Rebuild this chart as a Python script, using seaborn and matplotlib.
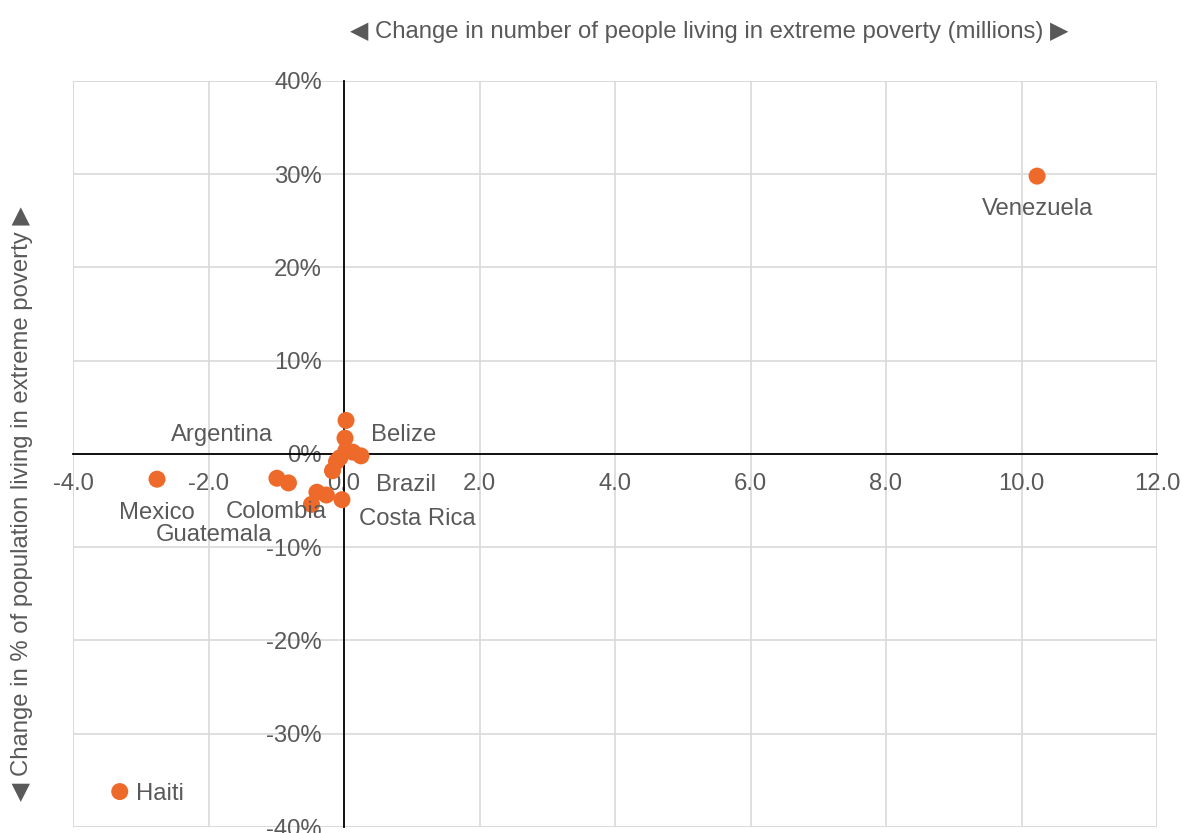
import seaborn as sns
import matplotlib.pyplot as plt
import pandas as pd
import numpy as np

# change in number of people in extreme poverty (millions) vs change in share (%)
country = ["Venezuela", "Haiti", "Mexico", "Argentina", "Colombia", "Guatemala",
           "Belize", "Brazil", "Costa Rica",
           "", "", "", "", "", "", "", ""]
change_millions = [10.23, -3.31, -2.76, -0.99, -0.82, -0.48,
                   0.015, 0.25, -0.03,
                   0.03, 0.13, -0.06, -0.11, -0.17, -0.40, -0.26, 0.03]
change_pct = [29.8, -36.2, -2.7, -2.6, -3.1, -5.4,
              1.7, -0.2, -4.9,
              3.6, 0.2, -0.4, -0.8, -1.8, -4.1, -4.4, 0.4]

df = pd.DataFrame({"Country": country, "Millions": change_millions, "Pct": change_pct})

orange = "#ED6A2B"
grey = "#595959"
fs = 17.2

sns.set_style("white")
plt.rcParams['font.family'] = ['Liberation Sans', 'DejaVu Sans']

fig = plt.figure(figsize=(11.83, 8.33), dpi=100)
ax = fig.add_axes([73/1183, 1 - 827/833, (1157-73)/1183, (827-81)/833])

sns.scatterplot(data=df, x="Millions", y="Pct", color=orange, s=150,
                edgecolor="none", ax=ax, zorder=5, clip_on=False)

ax.set_xlim(-4, 12)
ax.set_ylim(-40, 40)
ax.set_xticks(np.arange(-4, 12.1, 2))
ax.set_yticks(np.arange(-40, 41, 10))
ax.set_xticklabels([f"{v:.1f}" for v in np.arange(-4, 12.1, 2)])
ax.set_yticklabels([f"{int(v)}%" for v in np.arange(-40, 41, 10)])
ax.grid(True, color="#d9d9d9", linewidth=1.2)
ax.set_axisbelow(True)

for side in ["top", "right"]:
    ax.spines[side].set_visible(False)
ax.spines["left"].set_position(("data", 0))
ax.spines["bottom"].set_position(("data", 0))
ax.spines["left"].set_color("black")
ax.spines["bottom"].set_color("black")
ax.spines["left"].set_linewidth(1.3)
ax.spines["bottom"].set_linewidth(1.3)
ax.tick_params(axis="both", length=0, labelsize=fs, labelcolor=grey)
ax.tick_params(axis="x", pad=14)
ax.tick_params(axis="y", pad=16)
for lab in ax.get_xticklabels() + ax.get_yticklabels():
    lab.set_zorder(1)

# outer border drawn as gridlines
for xv in [-4, 12]:
    ax.axvline(xv, color="#d9d9d9", linewidth=1.2, zorder=0)
ax.axhline(40, color="#d9d9d9", linewidth=1.2, zorder=0)
ax.axhline(-40, color="#d9d9d9", linewidth=1.2, zorder=0)

ax.set_xlabel("")
ax.set_ylabel("")

# label offsets (points)
offsets = {
    "Venezuela": (0, -24, "center"),
    "Haiti": (12, -2, "left"),
    "Mexico": (0, -24, "center"),
    "Argentina": (-3, 31, "right"),
    "Colombia": (-9, -21, "center"),
    "Guatemala": (-70, -22, "center"),
    "Belize": (19, 2, "left"),
    "Brazil": (11, -21, "left"),
    "Costa Rica": (12, -14, "left"),
}
for _, r in df.iterrows():
    if r.Country in offsets:
        dx, dy, ha = offsets[r.Country]
        ax.annotate(r.Country, (r.Millions, r.Pct), xytext=(dx, dy),
                    textcoords="offset points", ha=ha, va="center",
                    fontsize=fs, color=grey, zorder=6)

fig.text(709/1183, 1 - 32/833,
         "\u25c0 Change in number of people living in extreme poverty (millions) \u25b6",
         ha="center", va="center", fontsize=fs, color=grey,
         family=['Liberation Sans', 'DejaVu Sans'])
fig.text(22/1183, 1 - 504/833,
         "\u25c0 Change in % of population living in extreme poverty \u25b6",
         ha="center", va="center", rotation=90, fontsize=fs, color=grey,
         family=['Liberation Sans', 'DejaVu Sans'])

plt.savefig("out.png", dpi=100)
